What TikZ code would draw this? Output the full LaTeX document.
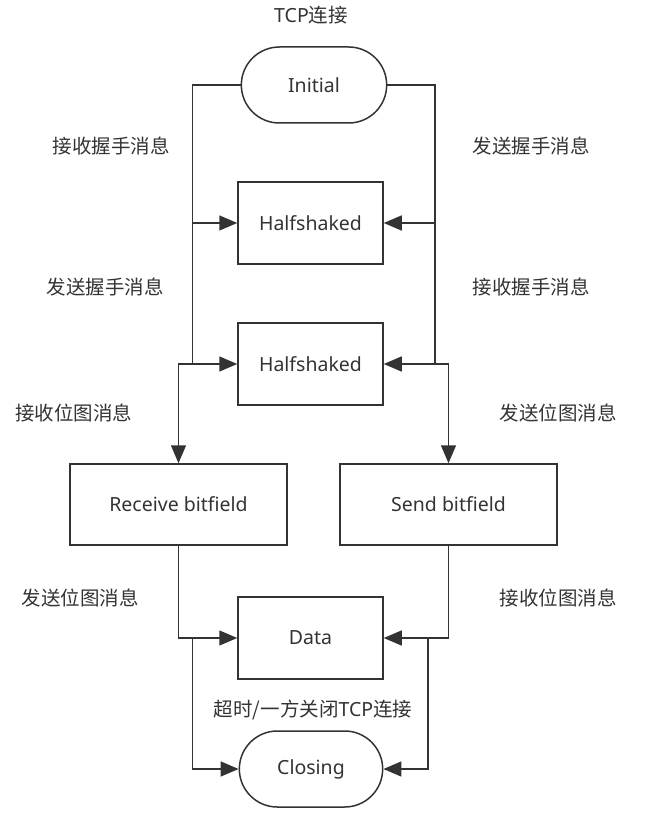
\documentclass[tikz,border=0pt]{standalone}
\usepackage{fontspec}
\setmainfont{Noto Sans}
\newfontfamily\cjk{Noto Sans CJK SC}
\usetikzlibrary{arrows.meta,shapes.misc}
\definecolor{ink}{HTML}{333333}

\begin{document}
\begin{tikzpicture}[x=1pt, y=-1pt, line width=1.5pt, color=ink,
  every node/.style={font=\fontsize{19.5}{23}\selectfont, text=ink},
  state/.style={draw, rectangle, minimum width=145pt, minimum height=82pt},
  wide/.style={draw, rectangle, minimum width=217pt, minimum height=81pt},
  terminal/.style={draw, rounded rectangle, minimum width=152pt, minimum height=76pt},
  flow/.style={-{Triangle[length=18pt, width=15pt]}}]
\useasboundingbox (0,0) rectangle (646,824);
\node (tcp) at (311,15) {TCP{\cjk 连接}};
\node[terminal] (init) at (314,85) {Initial};
\node[state] (half1) at (310.5,223) {Halfshaked};
\node[state] (half2) at (310.5,364) {Halfshaked};
\node[wide] (recv) at (178.5,504.5) {Receive bitfield};
\node[wide] (send) at (448.5,504.5) {Send bitfield};
\node[state] (data) at (310.5,638) {Data};
\node[terminal, minimum width=150pt] (close) at (311,769) {Closing};
\node (l1) at (111,146) {\cjk 接收握手消息};
\node (l2) at (531,146) {\cjk 发送握手消息};
\node (l3) at (105,287) {\cjk 发送握手消息};
\node (l4) at (531,287) {\cjk 接收握手消息};
\node (l5) at (74,413) {\cjk 接收位图消息};
\node (l6) at (558,413) {\cjk 发送位图消息};
\node (l7) at (80,598) {\cjk 发送位图消息};
\node (l8) at (558,598) {\cjk 接收位图消息};
\node (l9) at (313,710) {{\cjk 超时/一方关闭}TCP{\cjk 连接}};
\draw[flow] (init.west) -| ([xshift=-45]half1.west) -- (half1.west);
\draw[flow] (init.east) -| ([xshift=51]half1.east) -- (half1.east);
\draw[flow] ([xshift=-45]half1.west) |- (half2.west);
\draw[flow] ([xshift=51]half1.east) |- (half2.east);
\draw[flow] ([xshift=-45]half2.west) -| (recv.north);
\draw[flow] ([xshift=51]half2.east) -| (send.north);
\draw[flow] (recv.south) |- (data.west);
\draw[flow] (send.south) |- (data.east);
\draw[flow] ([xshift=-45]data.west) |- (close.west);
\draw[flow] ([xshift=44]data.east) |- (close.east);
\end{tikzpicture}
\end{document}
